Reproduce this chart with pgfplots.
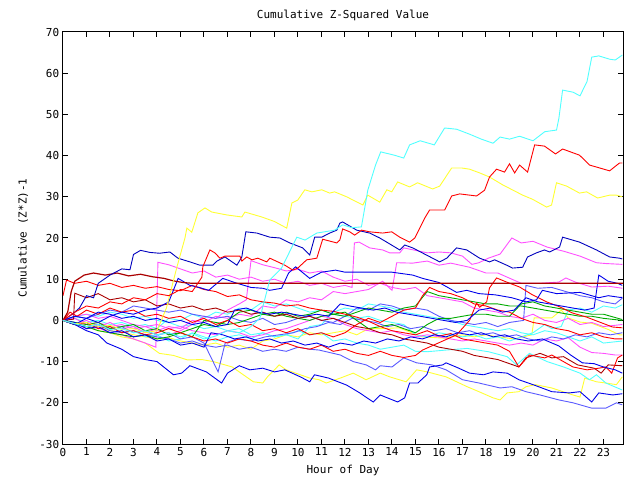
\documentclass[border=0pt]{standalone}
\usepackage{pgfplots}
\pgfplotsset{compat=1.18}
\usepackage{fontspec}
\setmainfont{DejaVu Sans Mono}
\definecolor{cR}{RGB}{255,0,0}
\definecolor{cDR}{RGB}{170,0,0}
\definecolor{cG}{RGB}{0,170,0}
\definecolor{cB}{RGB}{0,0,235}
\definecolor{cNv}{RGB}{0,0,190}
\definecolor{cMB}{RGB}{90,90,255}
\definecolor{cM}{RGB}{255,80,255}
\definecolor{cC}{RGB}{80,255,255}
\definecolor{cY}{RGB}{255,255,50}
\begin{document}
\fontsize{11bp}{13bp}\selectfont
\begin{tikzpicture}
\begin{axis}[
  scale only axis, width=560bp, height=412bp,
  xmin=0, xmax=23.83, ymin=-30, ymax=70,
  xtick={0,1,...,23}, ytick={-30,-20,...,70},
  tick align=inside, major tick length=5bp,
  axis line style={line width=1bp},
  every tick/.style={black, line width=1bp},
  tick label style={font=\fontsize{11bp}{13bp}\selectfont},
  /pgf/number format/assume math mode=true,
  every axis plot/.append style={line width=0.9bp},
]
\coordinate (sw) at (rel axis cs:0,0);
\coordinate (ne) at (rel axis cs:1,1);
\coordinate (tt) at (rel axis cs:0.5,1.0413);
\coordinate (xl) at (rel axis cs:0.5,-0.0631);
\coordinate (yl) at (rel axis cs:-0.0714,0.5);
% yellow Y2
\addplot[cY] coordinates {(0,0) (0.5,-1) (1,-1.5) (1.5,-2.5) (2,-3) (2.5,-4) (3,-4.5) (3.5,-5.5) (4.1,-8) (4.7,-8.5) (5.3,-9.6) (5.9,-9.5) (6.4,-10) (7.2,-11.3) (8.1,-14.9) (8.5,-15.2) (8.7,-13.7) (9.2,-10.8) (9.5,-12) (10.0,-13) (10.5,-14) (10.9,-14.4) (11.2,-15.2) (11.8,-14) (12.35,-12.8) (12.9,-14.4) (13.5,-12.8) (13.9,-13.7) (14.6,-14.9) (15.05,-12) (15.5,-12.5) (16.3,-13.7) (17.2,-16.1) (17.7,-17.3) (18.3,-18.8) (18.6,-19.3) (18.9,-17.6) (19.4,-17.3) (19.7,-16.1) (20.1,-15.6) (20.8,-16.4) (21.7,-18.1) (22.0,-18.6) (22.2,-14) (22.7,-14.9) (23.1,-15.2) (23.55,-15.6) (23.8,-13.7)};
% yellow Y3
\addplot[cY] coordinates {(0,0) (0.5,-0.5) (1,-1) (1.5,-1.8) (2,-2.5) (2.5,-2.8) (3,-3.5) (3.5,-4) (4,-4.5) (4.5,-4.2) (5,-5) (5.5,-5.5) (6,-6) (6.5,-5.5) (7,-6.5) (7.5,-6) (8,-7) (8.5,-5) (9,-4.5) (9.5,-3.5) (10,-4) (10.5,-3) (11,-3.5) (11.5,-3) (12,-2.5) (12.5,-3.5) (13,-2) (13.5,-2) (14.3,-1.8) (15.3,-4) (16.2,-4.3) (17,-3.5) (17.5,-4) (18,-3.5) (18.5,-4) (19.2,-4.5) (19.95,-3.5) (20.05,0.6) (20.8,0.6) (21.2,2.5) (21.5,0.6) (22.0,-0.4) (22.5,-0.7) (23.2,-2.2) (23.68,-3.5) (23.8,-3.5)};
% cyan C2
\addplot[cC] coordinates {(0,0) (0.5,-1) (1,-0.5) (1.5,-2) (2,-1.5) (2.5,-3) (3,-2.5) (3.5,-4) (4,-3.5) (4.5,-5) (5,-4.5) (5.5,-3) (6,-4) (6.5,-5) (7,-4) (7.5,-3.5) (8,-4.5) (8.5,-3) (9,-4) (9.5,-3.5) (10,-2.5) (10.5,-3.5) (11,-3) (11.5,-5) (12,-4.5) (12.5,-5.5) (13,-6) (13.5,-7) (14,-6.5) (14.5,-6) (15,-7.5) (15.5,-7.6) (16.3,-7.2) (17.2,-6.8) (18.1,-7.6) (18.9,-8.8) (19.3,-10.8) (19.85,-8) (20.6,-10) (21.3,-11.3) (22,-12.8) (22.4,-14.4) (22.7,-13.2) (23.1,-15.2) (23.8,-16.9)};
% cyan C3
\addplot[cC] coordinates {(0,0) (0.5,0.5) (1,-0.5) (1.5,0) (2,-1) (2.5,-0.5) (3,-1.5) (3.5,-1) (4,-2) (4.5,0.5) (5,0) (5.5,1.5) (6,0.5) (6.5,2) (7,1.5) (7.5,3) (8,2.5) (8.5,4.5) (9,3.5) (9.5,4) (10,3) (10.5,2) (11,2.5) (11.5,1.5) (12,1) (12.5,0.5) (13,1) (13.5,0) (14,-0.5) (14.5,-1) (15,-3.5) (15.5,-4) (16,-3) (16.5,-3.5) (17,-4) (17.5,-3.5) (18,-4.5) (18.5,-4) (19,-5) (19.5,-4) (20,-3) (20.5,-1) (20.8,-2) (21.2,-1.5) (21.5,2.5) (22,3) (22.5,2) (23,3.5) (23.5,3) (23.8,3.8)};
% cyan C4
\addplot[cC] coordinates {(0,0) (0.5,0.8) (1,1.5) (1.5,1) (2,2) (2.5,1.5) (3,0.5) (3.5,1) (4,0) (4.5,-0.5) (5,-1.5) (5.5,-1) (6,-2) (6.5,-1.5) (7,-2.5) (7.5,-2) (8,-3.5) (8.5,-3) (9,-4) (9.5,-3.5) (10,-4.5) (10.5,-1.5) (11,-1) (11.5,2) (12,3) (12.5,2.5) (13,4) (13.5,3.5) (14,3) (14.5,2) (15,1.5) (15.5,1) (16,0.5) (16.5,0) (17,-1) (17.5,-1.5) (18,-2) (18.5,-2.5) (19,-2) (19.5,-3) (20,-3.5) (20.5,-2.5) (21,-3) (21.5,-4) (22,-5) (22.5,-4) (23,-5.5) (23.8,-5)};
% magenta M3
\addplot[cM] coordinates {(0,0) (0.5,1) (1,1.5) (1.5,0.5) (2,1) (2.5,0) (3,-1) (3.5,-1.5) (4,-1) (4.5,-2) (5,-1.5) (5.5,-2.5) (6,-3) (6.5,-3.5) (7,-2.5) (7.5,-3) (8,-4) (8.5,-3.5) (9,-2.5) (9.5,-2) (10,-1) (10.5,0) (11,1) (11.5,0.5) (12,-1) (12.5,-2) (13,-2.5) (13.5,-3) (14,-2.5) (14.5,-3.5) (15,-4) (15.5,-3.5) (16,-4) (16.5,-4.5) (17,-5) (17.5,-4.5) (18,-5) (18.5,-5.5) (19,-6) (19.5,-5.5) (20,-6) (20.5,-4.5) (21,-5) (21.5,-4.2) (22,-6.5) (22.5,-7.8) (23,-8) (23.5,-8.4) (23.8,-8.4)};
% magenta M4
\addplot[cM] coordinates {(0,0) (0.5,-1) (1,0) (1.5,-1.5) (2,-0.5) (2.5,-2) (3,-1.5) (3.5,-3) (4,-2) (4.5,-3.5) (5,-2.5) (5.5,-1) (6,1) (6.5,0.5) (7,2.5) (7.5,4) (7.8,5) (8,14.5) (8.5,13.5) (9,12.8) (9.5,12) (10,12.4) (10.5,11.5) (11,12) (11.5,10.5) (12,9.5) (12.5,10) (13,8.5) (13.5,9) (14,8) (14.5,7.5) (15,8) (15.5,6) (16,5.5) (16.5,5) (17,4.5) (17.5,3) (18,2.5) (18.5,2) (19,1) (19.5,0.5) (20,1.5) (20.5,0) (21,-0.5) (21.5,0.5) (22,-1) (22.5,-0.5) (23,-1.5) (23.8,-1)};
% magenta F
\addplot[cM] coordinates {(0,0) (0.5,0.5) (1,-1) (1.5,-0.5) (2,-1.5) (2.5,-1) (3,-2) (3.5,-1.5) (4,-2.5) (4.5,-1.5) (5,-2) (5.5,0) (6,-0.5) (6.5,1) (7,0.5) (7.5,1.5) (8,1) (8.5,3.5) (9,3) (9.5,5) (10,4.5) (10.5,5.5) (11,5) (11.5,7) (12,6.5) (12.5,7) (13.0,7.5) (13.6,9.5) (14.0,7.3) (14.2,14) (14.88,13.9) (15.5,14.4) (16.0,13.4) (16.5,13.9) (17.3,12.9) (18.0,11.5) (18.5,11.5) (19.5,9) (20.3,9) (21.1,9.3) (21.4,10.3) (21.8,9.3) (22.5,8.1) (23.2,8.3) (23.8,7.8)};
% magenta E
\addplot[cM] coordinates {(0,0) (0.5,-0.8) (1,-2) (1.5,-1.8) (2,-3) (2.5,-3.5) (3,-4.5) (3.5,-5.5) (3.95,-6.5) (4.04,14.1) (4.5,13.5) (5,12.5) (5.5,11.5) (6,12) (6.5,10.5) (7,11) (7.5,10) (8,10.5) (8.5,9.5) (9,10) (9.5,9) (10,9.5) (10.5,8.5) (11,9) (11.5,8) (12,8.5) (12.3,8) (12.4,18.8) (12.6,19) (13.05,17.6) (13.6,17.1) (13.9,16.4) (14.33,16.4) (14.5,17.6) (15.0,17) (15.5,16.4) (16.0,16.6) (16.5,16.4) (17.0,15.6) (17.4,13.6) (17.7,14) (18.1,15.1) (18.6,16.1) (19.1,20.0) (19.5,18.8) (20.0,19.2) (20.6,17.8) (21.3,16.8) (22.0,15.6) (22.7,14) (23.1,13.8) (23.8,13.6)};
% medium blue MB1
\addplot[cMB] coordinates {(0,0) (0.5,-1) (1,-1.5) (1.5,-1) (2,-2.5) (2.5,-3) (3,-2.5) (3.5,-3.5) (4,-4) (4.5,-4.5) (5,-5.5) (5.5,-5) (6,-6) (6.5,-6.5) (7,-6) (7.5,-7) (8,-6.5) (8.5,-7.5) (9,-7) (9.5,-7.5) (10,-6.5) (10.5,-7) (10.9,-7.2) (11.8,-8.4) (12.35,-10) (12.9,-10.8) (13.3,-12) (13.5,-11) (14.0,-11.3) (14.5,-9.1) (15.05,-10.3) (15.7,-10.8) (16.3,-12) (17,-14.4) (17.7,-15.2) (18.6,-16.4) (19.1,-16.1) (19.7,-17.3) (20.3,-18.1) (21.1,-19.3) (21.7,-20) (22.5,-21.3) (23.1,-21.3) (23.55,-20) (23.8,-20.5)};
% medium blue MB2
\addplot[cMB] coordinates {(0,0) (0.5,-0.5) (1,-1.5) (1.5,-1) (2,-2) (2.5,-1.5) (3,-3) (3.5,-2.5) (4,-3.5) (4.5,-3) (5,-4.5) (5.5,-4) (6,-5.5) (6.6,-12.5) (6.9,-5.5) (7.4,-4.5) (8,-5) (8.6,-4) (9.2,-3.5) (9.8,-3) (10.3,-2) (10.8,-1.5) (11.3,-0.5) (11.8,-1) (12.3,0.5) (12.8,0) (13.3,-0.5) (13.8,-1.5) (14.3,-1) (14.8,-2) (15.3,-1.5) (15.8,-2.5) (16.3,-2) (16.8,-3) (17.3,-2.5) (17.8,-3.5) (18.3,-3) (18.8,-4) (19.3,-3.5) (19.8,-4.5) (20.3,-5) (20.8,-4) (21.3,-4.5) (21.8,-3.5) (22.3,-4) (22.8,-3) (23.3,-3.5) (23.8,-3)};
% medium blue MB3
\addplot[cMB] coordinates {(0,0) (0.5,1) (1,0.5) (1.5,1.5) (2,2.5) (2.5,2) (3,3.5) (3.5,3) (4,2.5) (4.5,2) (5,2.5) (5.5,1.5) (6,1) (6.5,0.5) (7,1) (7.5,0) (8,-0.5) (8.5,0.5) (9,-1) (9.5,-0.5) (10,0.5) (10.5,1) (11,0) (11.5,-0.5) (12,1) (12.5,3) (13,2.5) (13.5,4) (14,3.5) (14.5,2.5) (15,3) (15.5,2.5) (16,1) (16.5,0) (17,-0.5) (17.5,-1) (18,-0.5) (18.5,-1.5) (19,-0.5) (19.6,0) (19.7,8.5) (20.2,7.8) (20.8,8) (21.4,7) (22,6) (22.5,5.5) (23,4.5) (23.5,4) (23.8,5.4)};
% green G1
\addplot[cG] coordinates {(0,0) (0.5,-0.5) (1,-1) (1.5,-0.5) (2,-2) (2.5,-1.5) (3,-1) (3.5,-2.5) (4,-2) (4.5,-3.5) (5,-3) (5.5,-2) (6,-1) (6.5,-1.5) (7,0) (7.5,2) (8,2.5) (8.5,1.5) (9,1) (9.5,2) (10,1) (10.5,1.5) (11,2.5) (11.5,1.5) (12,1) (12.5,2) (13,3) (13.5,2.5) (14,2) (14.5,3) (15,3.5) (15.5,7) (16,6) (16.5,5.5) (17,5) (17.5,4.5) (18,4) (18.5,4) (19,3.5) (19.5,3.5) (20,3) (20.5,2.5) (21,2) (21.5,1.5) (22,1) (22.5,1) (23,0.5) (23.8,0)};
% green G2
\addplot[cG] coordinates {(0,0) (0.5,-1) (1,-1.5) (1.5,-2.5) (2,-3) (2.5,-3.5) (3,-4) (3.5,-3.5) (4,-4.5) (4.5,-4) (5,-3) (5.5,-4) (6,0) (6.5,-0.5) (7,-1) (7.5,-0.5) (8,0.5) (8.5,1.5) (9,2) (9.5,1) (10,0.5) (10.5,0) (11,1) (11.5,1.5) (12,2) (12.5,0) (13,-2) (13.5,-1.5) (14,-1) (14.5,-2) (15,-3) (15.5,-1) (16,0.5) (16.5,0.5) (17,1) (17.5,1.5) (18,1.5) (18.5,1) (19,1) (19.5,4) (20,4.5) (20.5,3.5) (21,3) (21.5,2.5) (22,2) (22.5,1.5) (23,1.5) (23.8,0.2)};
% dark red D2
\addplot[cDR] coordinates {(0,0) (0.45,0.3) (0.5,6.6) (1,5.5) (1.5,6.5) (2,5) (2.5,5.5) (3,4.5) (3.5,5) (4,3.5) (4.5,4) (5,3) (5.5,3.5) (6,2.5) (6.5,3) (7,2) (7.5,2.5) (8,1.5) (8.5,2) (9,1) (9.5,1.5) (10,0.5) (10.5,1) (11,0) (11.5,0.5) (12,-0.5) (12.5,-1.5) (13,-2) (13.5,-3) (14,-3.5) (14.5,-4.5) (15,-5) (15.5,-5.5) (16,-6.5) (16.5,-7) (17,-7.5) (17.5,-8.5) (18,-9) (18.5,-9.5) (19,-10.5) (19.4,-11.3) (19.7,-9.1) (20.3,-8) (20.8,-9.1) (21.3,-8.8) (21.9,-10.8) (22.6,-11.6) (22.9,-12.8) (23.2,-10.8) (23.8,-11)};
% red R3
\addplot[cR] coordinates {(0,0) (0.3,2) (0.6,1) (1,2.5) (1.5,1.5) (2,3) (2.5,2) (3,2.5) (3.5,1) (4,1.5) (4.5,0.5) (5,1) (5.5,-0.5) (6,0.5) (6.5,-1) (7,0) (7.5,-1.5) (8,-1) (8.5,-2.5) (9,-2) (9.5,-3) (10,-2) (10.5,-3.5) (11,-3) (11.5,-4) (12,-3) (12.5,-1) (13,0.5) (13.5,-0.5) (14,1) (14.5,2.5) (15,3) (15.3,6) (15.6,8) (16.0,7) (16.5,6.5) (17,5.5) (17.5,4) (18,3.5) (18.5,2.5) (19,2) (19.5,0.5) (20,-0.5) (20.5,-1) (21,-2) (21.5,-2.5) (22,-3.5) (22.5,-3) (23,-4) (23.5,-4.5) (23.8,-4.5)};
% red R2
\addplot[cR] coordinates {(0,0) (0.5,-1) (1,-0.5) (1.5,-2) (2,-1.5) (2.5,-3) (3,-2.5) (3.5,-3.5) (4,-3) (4.5,-2) (5,-3) (5.5,-4) (6,-5) (6.5,-4.5) (7,-5.5) (7.5,-4.5) (8,-5) (8.5,-6) (9,-6.5) (9.5,-5.5) (10,-6.5) (10.5,-7) (11,-6) (11.5,-7.5) (12,-7) (12.5,-8) (13,-8.5) (13.5,-7.5) (14,-8.5) (14.5,-9) (15,-8.5) (15.3,-7.2) (16.75,-3.5) (17.3,0) (17.6,4.2) (17.73,3.2) (18.03,4.5) (18.15,7.9) (18.45,10.3) (18.88,9.3) (19.43,8.1) (19.98,6.2) (20.58,4.5) (21.13,3.3) (21.68,1.8) (22.28,0.8) (22.83,-0.4) (23.38,-1.6) (23.8,-1.8)};
% red R1
\addplot[cR] coordinates {(0,6) (0.15,9.8) (0.5,9) (1,9.5) (1.5,8.5) (2,9) (2.5,8) (3,8.5) (3.5,7.8) (4,8.2) (4.5,7.5) (5,7.2) (5.5,8.5) (6,7.5) (6.5,7) (7,5.8) (7.5,6.2) (8,5) (8.5,4.5) (9,4.2) (9.5,3.5) (10,3.8) (10.5,3) (11,2.5) (11.5,2.2) (12,1.5) (12.5,0.8) (13,-0.2) (13.5,-1.5) (14,-2.5) (14.5,-3) (15,-3.5) (15.5,-2.5) (16,-3.8) (16.5,-3.2) (17,-4.5) (17.5,-5) (18,-5.5) (18.5,-6) (19,-7.5) (19.4,-11.3) (19.85,-8.4) (20.5,-9.1) (20.8,-8.4) (21.7,-11.3) (22.3,-12) (22.8,-11.6) (23.1,-11.3) (23.35,-12.8) (23.6,-9.1) (23.8,-8.4)};
% blue B5
\addplot[cB] coordinates {(0,0) (0.5,-0.5) (1,-2) (1.5,-1.5) (2,-3) (2.5,-2.5) (3,-4) (3.5,-3.5) (4,-5) (4.5,-4.5) (5,-6) (5.5,-5.5) (6,-6.5) (6.3,-3) (6.8,-3.5) (7.3,-4.5) (7.8,-4) (8.3,-5) (8.8,-4.5) (9.3,-5.5) (9.8,-5) (10.3,-6) (10.8,-5.5) (11.3,-6.5) (11.8,-5.5) (12.3,-6) (12.8,-5) (13.3,-5.5) (13.8,-4.5) (14.3,-5) (14.8,-4) (15.3,-4.5) (15.8,-3.5) (16.3,-4) (16.8,-3) (17.3,-3.5) (17.8,-3) (18.3,-4) (18.8,-3.5) (19.3,-4.5) (19.8,-5) (20.4,-4.5) (21.1,-6.2) (21.6,-8.4) (22.1,-10.3) (22.6,-10.5) (23.0,-11.3) (23.5,-12) (23.8,-12.8)};
% blue B4
\addplot[cB] coordinates {(0,0) (0.5,-1) (1,-2.5) (1.5,-3.5) (1.87,-5.5) (2.5,-7) (3,-8.8) (3.5,-9.5) (4,-10) (4.7,-13.2) (5.05,-12.8) (5.4,-11) (6.1,-12.5) (6.75,-15.2) (7.0,-12.8) (7.5,-11) (7.95,-12) (8.5,-11.6) (9,-12.5) (9.44,-12) (10.1,-13.7) (10.5,-14.9) (10.7,-13.2) (11.3,-14) (12.07,-15.7) (12.6,-17.5) (13.2,-19.8) (13.5,-18.1) (14.24,-19.8) (14.54,-18.8) (14.75,-15.2) (15.1,-15.2) (15.48,-13.2) (15.6,-11.3) (16.16,-10.8) (16.3,-10.3) (16.8,-11.5) (17.3,-12.8) (17.9,-13.2) (18.3,-12.5) (18.9,-12.8) (19.4,-14.4) (20.1,-15.8) (20.8,-17.3) (21.55,-17.6) (22.0,-17.3) (22.5,-19.8) (22.8,-17.6) (23.4,-18.1) (23.8,-17.8)};
% blue B3
\addplot[cB] coordinates {(0,0) (0.5,1) (1,0.5) (1.5,2) (2,1.5) (2.5,0.5) (3,1) (3.5,0) (4,0.5) (4.5,-0.5) (5,0) (5.5,-1) (6,-0.5) (6.5,-1.5) (7,-1) (7.3,2.5) (7.8,3) (8.3,2) (8.8,1.5) (9.3,2) (9.8,1.5) (10.3,1) (10.8,1.5) (11.3,1) (11.8,4) (12.2,3.5) (12.7,3) (13.2,2.5) (13.7,3) (14.2,2) (14.7,1.5) (15.2,1) (15.7,0.5) (16.2,0) (16.7,-0.5) (17.2,0) (17.7,2.5) (18.2,3) (18.7,2) (19.2,2.5) (19.7,5.5) (20.2,4.5) (20.7,4) (21.2,3.5) (21.7,3) (22.2,2.5) (22.6,3) (22.8,11) (23.2,9.5) (23.6,9) (23.8,8.5)};
% blue B2
\addplot[cB] coordinates {(0,0) (0.5,-1) (1,0.5) (1.5,-0.5) (2,1) (2.5,2) (3,1.5) (3.5,2.5) (4,3) (4.5,4.5) (4.9,10.2) (5.4,8.5) (5.8,8) (6.2,7.3) (6.8,10.2) (7.3,9.2) (8,8) (8.5,7.8) (8.8,7.3) (9.3,7.8) (9.6,11.5) (9.9,13) (10.5,10.2) (11.0,11.7) (11.6,12.2) (12.0,11.7) (12.8,11.7) (13.5,11.7) (14.0,11.7) (14.88,11) (15.3,10.2) (16.0,9.2) (16.75,6.8) (17.18,7.3) (17.7,6.5) (18.4,6.2) (19.1,5.5) (19.7,4.5) (20.15,5) (20.4,7.3) (21,6.5) (22,6.8) (22.8,5.5) (23.2,6) (23.68,5.6) (23.8,5.6)};
% dark red flat H
\addplot[cDR, line width=1.2bp] coordinates {(0,0) (0.2,2) (0.35,7) (0.5,9.5) (0.9,11) (1.3,11.5) (1.8,11) (2.3,11.5) (2.8,10.8) (3.3,11.2) (3.8,10.6) (4.3,10.2) (4.7,9.6) (5.1,9.2) (5.5,9.0) (23.83,9.0)};
% navy D
\addplot[cNv] coordinates {(0,0) (0.4,1.5) (0.7,3) (1.0,6) (1.3,5.5) (1.5,9) (2.0,11) (2.5,12.5) (2.85,12.3) (3.0,16) (3.3,17.0) (3.7,16.5) (4.1,16.3) (4.55,16.6) (4.89,15.1) (5.4,14.2) (5.82,13.4) (6.38,13.4) (6.55,14.4) (6.89,15.4) (7.4,13.4) (7.61,15.4) (7.78,21.5) (8.25,21.2) (8.8,20.2) (9.23,20.0) (9.65,18.8) (10.2,17.6) (10.5,15.9) (10.71,20.2) (11.01,20.2) (11.35,21.2) (11.65,21.9) (11.78,23.6) (11.9,23.9) (12.5,21.9) (13.05,21.2) (13.48,20.0) (14.33,17.1) (14.54,18.3) (14.88,17.6) (16.03,14.2) (16.33,15.1) (16.75,17.6) (17.18,17.1) (17.73,15.1) (18.15,14.2) (18.37,14.7) (18.88,13.4) (19.13,12.7) (19.56,12.9) (19.77,15.4) (20.15,16.4) (20.49,17.1) (20.71,16.6) (21.13,17.8) (21.26,20.2) (21.98,19.0) (22.7,17.1) (23.26,15.4) (23.68,15.1) (23.8,14.9)};
% yellow B
\addplot[cY] coordinates {(0,0) (0.5,-0.8) (1,-0.5) (1.5,-1.5) (2,-1.2) (2.5,-2.2) (3,-2) (3.5,-3) (4,-2.5) (4.4,3) (4.85,13) (5.19,20) (5.27,22.4) (5.48,21.4) (5.74,26.1) (6.04,27.3) (6.33,26.3) (6.97,25.6) (7.61,25.1) (7.74,26.3) (8.46,25.1) (9.0,24) (9.52,22.4) (9.74,28.5) (9.99,29.2) (10.29,31.7) (10.59,31.2) (11.01,31.7) (11.35,30.9) (11.56,31.2) (12.07,30) (12.76,28) (12.97,30.4) (13.48,28.7) (13.78,31.7) (13.99,31.2) (14.24,33.6) (14.75,32.4) (15.09,33.4) (15.73,31.9) (16.03,32.6) (16.54,37) (16.96,37) (17.3,36.7) (17.73,35.8) (18.15,34.8) (18.71,32.9) (19.56,30.4) (19.98,29.4) (20.58,27.5) (20.79,28) (21.0,33.4) (21.43,32.6) (21.98,30.9) (22.28,31.2) (22.75,29.7) (23.26,30.4) (23.55,30.4) (23.8,30)};
% red C
\addplot[cR] coordinates {(0,0) (0.5,2) (1,3.5) (1.5,3) (2,4.5) (2.5,4) (3,5.5) (3.5,5) (4,6.5) (4.5,6) (5,7.5) (5.5,7) (5.91,10.5) (5.95,13) (6.25,17.1) (6.46,16.4) (6.68,15.1) (6.89,15.6) (7.53,15.6) (7.61,14.4) (7.82,15.4) (8.04,14.7) (8.29,15.1) (8.67,14.2) (8.8,15.1) (9.14,14.2) (9.44,13.4) (9.78,12.2) (9.99,12.7) (10.37,14.7) (10.8,15.1) (11.05,19.7) (11.65,18.8) (11.78,19.5) (11.9,22.2) (12.2,21.5) (12.41,20.7) (12.71,21.9) (13.05,21.5) (13.6,21.2) (13.99,21.5) (14.33,20.2) (14.75,19) (14.97,20) (15.39,24.8) (15.6,26.8) (16.24,26.8) (16.54,30.2) (16.88,30.7) (17.6,30.2) (17.94,31.6) (18.15,34.8) (18.45,36.7) (18.79,36) (19.0,38) (19.22,35.8) (19.43,37.7) (19.77,36) (20.07,42.6) (20.49,42.3) (20.96,40.4) (21.26,41.6) (21.98,40.1) (22.41,37.7) (23.26,36.3) (23.68,38.2) (23.8,38.2)};
% cyan A
\addplot[cC] coordinates {(0,0) (0.5,-0.8) (1,-1.5) (1.5,-1) (2,-2.2) (2.5,-2) (3,-3) (3.5,-2.5) (4,-3.5) (4.5,-3) (5,-4) (5.5,-3.2) (6,-4.5) (6.5,-3.8) (7,-2.5) (7.5,-3) (8,-1.5) (8.38,0.6) (8.8,9.8) (9.3,12.7) (9.95,20.2) (10.3,19.5) (10.8,21.2) (11.56,21.9) (11.9,23.2) (12.3,22.5) (12.7,22.7) (12.97,31.6) (13.3,37.7) (13.52,40.9) (14.1,40.1) (14.5,39.4) (14.75,42.6) (15.2,43.6) (15.8,42.6) (16.24,46.7) (16.75,46.4) (17.3,45.2) (17.8,44) (18.3,43) (18.6,44.5) (19.0,44) (19.43,44.7) (20.0,43.6) (20.5,45.8) (21.0,46.2) (21.1,49.0) (21.26,55.9) (21.7,55.4) (22.0,54.5) (22.3,58) (22.5,63.9) (22.8,64.2) (23.26,63.4) (23.5,63.2) (23.8,64.4)};
\end{axis}
\node at (tt) {Cumulative Z-Squared Value};
\node at (xl) {Hour of Day};
\node[rotate=90] at (yl) {Cumulative (Z*Z)-1};
\path ([shift={(-63bp,-36bp)}]sw) rectangle ([shift={(17bp,32bp)}]ne);
\end{tikzpicture}
\end{document}
